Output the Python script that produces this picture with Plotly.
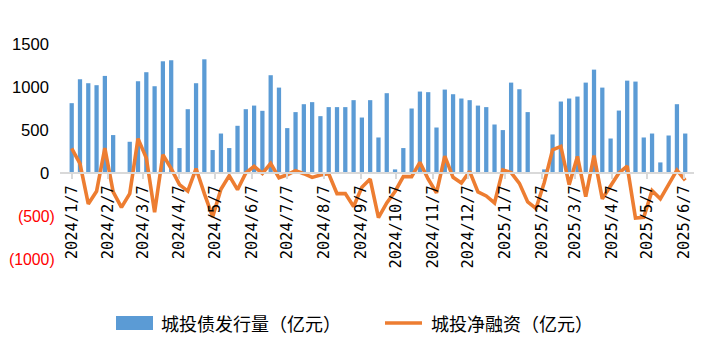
import pandas as pd
import plotly.graph_objects as go

# ---------------- data ----------------
week_start = "2024-01-07"
n_weeks = 75
dates = pd.date_range(week_start, periods=n_weeks, freq="7D")

issuance = [812, 1090, 1044, 1021, 1129, 441, 0, 363, 1067, 1172,
            1009, 1299, 1311, 290, 742, 1044, 1322, 267, 459, 290,
            549, 742, 784, 723, 1137, 993, 522, 708, 800, 824,
            661, 766, 766, 766, 847, 645, 847, 413, 928, 42,
            290, 750, 947, 940, 529, 970, 916, 866, 847, 784,
            766, 564, 499, 1051, 974, 708, 0, 42, 448, 831,
            866, 889, 1051, 1202, 993, 401, 726, 1074, 1063, 413,
            459, 123, 436, 800, 459]

net_financing = [285, 110, -360, -213, 290, -220, -400, -240, 400, 174,
                 -457, 212, 50, -135, -210, 52, -240, -510, -190, -31,
                 -194, 0, 77, -5, 112, -55, -20, 28, -8, -51,
                 -23, -8, -240, -240, -390, -165, -70, -520, -348, -215,
                 -42, -42, 123, -70, -232, 197, -50, -116, 19, -220,
                 -267, -348, 34, 5, -120, -337, -412, -110, 270, 309,
                 -136, 193, -275, 201, -300, -155, 0, 80, -525, -515,
                 -205, -300, -128, 33, -85]

tick_dates = ["2024-01-07", "2024-02-07", "2024-03-07", "2024-04-07", "2024-05-07",
              "2024-06-07", "2024-07-07", "2024-08-07", "2024-09-07", "2024-10-07",
              "2024-11-07", "2024-12-07", "2025-01-07", "2025-02-07", "2025-03-07",
              "2025-04-07", "2025-05-07", "2025-06-07"]
tick_text = ["2024/1/7", "2024/2/7", "2024/3/7", "2024/4/7", "2024/5/7",
             "2024/6/7", "2024/7/7", "2024/8/7", "2024/9/7", "2024/10/7",
             "2024/11/7", "2024/12/7", "2025/1/7", "2025/2/7", "2025/3/7",
             "2025/4/7", "2025/5/7", "2025/6/7"]

y_ticks = [1500, 1000, 500, 0, -500, -1000]
y_tick_text = ["1500", "1000", "500", "0", "(500)", "(1000)"]

series_names = ["城投债发行量（亿元）", "城投净融资（亿元）"]

# ---------------- style ----------------
BLUE = "#5B9BD5"
ORANGE = "#ED7D31"
W, H = 709, 355
OFF = 8  # page body margin offset
# target page-pixel plot box: left 60, right 694, top 44, bottom 259
ML, MT = 60 - OFF, 44 - OFF
MR = W - (694 - OFF)
MB = H - (259 - OFF)
plot_w = W - ML - MR
plot_h = H - MT - MB
px_per_day = 1.1844
first_px = 71.7
x0 = pd.Timestamp(week_start) - pd.Timedelta(days=(first_px - 60) / px_per_day)
x1 = x0 + pd.Timedelta(days=plot_w / px_per_day)
y_min, y_max = -1000, 1500

fig = go.Figure()
fig.add_trace(go.Bar(x=dates, y=issuance, name=series_names[0], marker_color=BLUE,
                     marker_line_width=0, width=3.6 * 86400000, showlegend=False))
fig.add_trace(go.Scatter(x=dates, y=net_financing, name=series_names[1], mode="lines",
                         line=dict(color=ORANGE, width=3.6), showlegend=False))

fig.update_layout(
    width=W, height=H,
    margin=dict(l=ML, r=MR, t=MT, b=MB, autoexpand=False),
    plot_bgcolor="white", paper_bgcolor="white",
    showlegend=False,
    xaxis=dict(type="date", range=[x0, x1], anchor="free",
               position=(0 - y_min) / (y_max - y_min), automargin=False,
               showline=True, linecolor="#D9D9D9", linewidth=2,
               ticks="outside", ticklen=5, tickcolor="#D9D9D9", tickwidth=1.5,
               tickvals=tick_dates, ticktext=tick_text, tickangle=-90,
               tickfont=dict(family="DejaVu Sans Mono", size=15.4, color="#000000"),
               showgrid=False, zeroline=False),
    yaxis=dict(range=[y_min, y_max], showticklabels=False, showgrid=False,
               zeroline=False, showline=False, automargin=False),
)

annotations = []
for v, t in zip(y_ticks, y_tick_text):
    neg = v < 0
    annotations.append(dict(x=0, xref="paper", y=v, yref="y", text=t, showarrow=False,
                            xanchor="right", yanchor="middle",
                            xshift=-4 if neg else -10, borderpad=0,
                            font=dict(family="Liberation Sans", size=16.6 if not neg else 15.8,
                                      color="#FF0000" if neg else "#000000")))


def px_x(p):
    return (p - OFF - ML) / plot_w


def px_y(p):
    return (H - MB - (p - OFF)) / plot_h


leg_y = 323
shapes = [
    dict(type="rect", xref="paper", yref="paper", x0=px_x(116), x1=px_x(153),
         y0=px_y(330), y1=px_y(316), fillcolor=BLUE, line=dict(width=0)),
    dict(type="line", xref="paper", yref="paper", x0=px_x(385), x1=px_x(422),
         y0=px_y(leg_y), y1=px_y(leg_y), line=dict(color=ORANGE, width=3.6)),
]
annotations.append(dict(x=px_x(159), y=px_y(leg_y), xref="paper", yref="paper",
                        text=series_names[0], showarrow=False, xanchor="left", yanchor="middle",
                        font=dict(family="Noto Sans CJK SC", size=18, color="#000000")))
annotations.append(dict(x=px_x(429), y=px_y(leg_y), xref="paper", yref="paper",
                        text=series_names[1], showarrow=False, xanchor="left", yanchor="middle",
                        font=dict(family="Noto Sans CJK SC", size=18, color="#000000")))

fig.update_layout(annotations=annotations, shapes=shapes)
fig.write_html("out.html")
